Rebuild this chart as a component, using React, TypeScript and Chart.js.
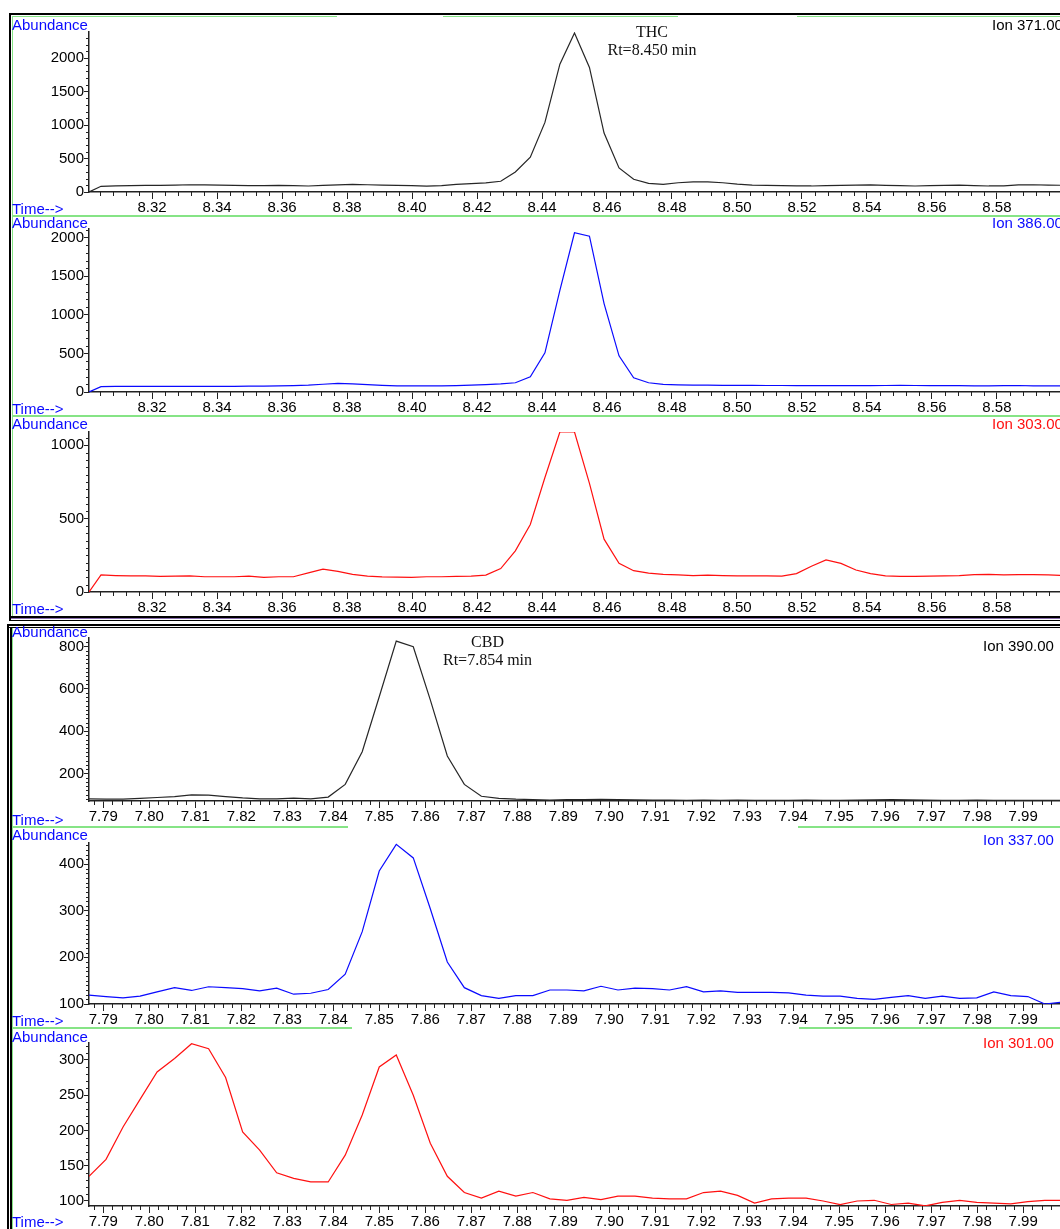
import React, { useEffect, useRef } from "react";
import { Chart, registerables } from "chart.js";

Chart.register(...registerables);

// ---------- THC group (retention time axis, minutes) ----------
const THC_TIME = [8.3006, 8.3043, 8.3088, 8.3134, 8.3180, 8.3225, 8.3271, 8.3316, 8.3362, 8.3407, 8.3453, 8.3498, 8.3544, 8.3590, 8.3635, 8.3681, 8.3726, 8.3772, 8.3817, 8.3863, 8.3908, 8.3954, 8.3999, 8.4045, 8.4091, 8.4136, 8.4182, 8.4227, 8.4273, 8.4318, 8.4364, 8.4409, 8.4455, 8.4500, 8.4546, 8.4591, 8.4637, 8.4682, 8.4728, 8.4773, 8.4819, 8.4865, 8.4910, 8.4956, 8.5001, 8.5047, 8.5092, 8.5138, 8.5183, 8.5229, 8.5274, 8.5320, 8.5366, 8.5411, 8.5457, 8.5502, 8.5548, 8.5593, 8.5639, 8.5684, 8.5730, 8.5775, 8.5821, 8.5866, 8.5912, 8.5958, 8.6003];

const ION_371 = [0, 85, 92, 95, 98, 100, 104, 108, 105, 103, 98, 96, 94, 100, 95, 90, 100, 106, 115, 108, 104, 100, 96, 88, 95, 115, 125, 135, 160, 300, 520, 1040, 1910, 2375, 1860, 880, 360, 190, 130, 115, 138, 152, 152, 138, 118, 104, 100, 95, 92, 90, 96, 100, 102, 106, 100, 95, 90, 94, 100, 104, 96, 90, 92, 105, 108, 104, 100];

const ION_386 = [0, 70, 72, 72, 72, 72, 72, 74, 74, 74, 74, 75, 76, 78, 82, 88, 100, 112, 105, 95, 86, 80, 78, 78, 80, 82, 88, 95, 105, 120, 197, 507, 1316, 2061, 2017, 1145, 468, 184, 120, 99, 93, 90, 88, 86, 86, 85, 84, 84, 83, 83, 82, 82, 82, 82, 84, 86, 84, 82, 82, 82, 80, 80, 82, 84, 80, 78, 78];

const ION_303 = [0, 116, 112, 110, 110, 106, 108, 110, 104, 104, 104, 108, 100, 104, 104, 130, 156, 140, 120, 108, 103, 102, 100, 104, 104, 106, 108, 115, 160, 280, 460, 780, 1090, 1090, 740, 360, 195, 145, 128, 120, 116, 112, 115, 112, 110, 110, 110, 108, 125, 175, 218, 195, 150, 125, 110, 106, 106, 108, 110, 112, 118, 120, 116, 118, 118, 116, 112];

const THC_X_TICKS = [8.32, 8.34, 8.36, 8.38, 8.40, 8.42, 8.44, 8.46, 8.48, 8.50, 8.52, 8.54, 8.56, 8.58];
const Y_TICKS_371 = [0, 500, 1000, 1500, 2000];
const Y_TICKS_386 = [0, 500, 1000, 1500, 2000];
const Y_TICKS_303 = [0, 500, 1000];

// ---------- CBD group ----------
const CBD_TIME = [7.7869, 7.7906, 7.7943, 7.7980, 7.8017, 7.8055, 7.8092, 7.8129, 7.8166, 7.8203, 7.8240, 7.8277, 7.8314, 7.8351, 7.8389, 7.8426, 7.8463, 7.8500, 7.8537, 7.8574, 7.8611, 7.8648, 7.8685, 7.8722, 7.8760, 7.8797, 7.8834, 7.8871, 7.8908, 7.8945, 7.8982, 7.9019, 7.9056, 7.9094, 7.9131, 7.9168, 7.9205, 7.9242, 7.9279, 7.9316, 7.9353, 7.9390, 7.9428, 7.9465, 7.9502, 7.9539, 7.9576, 7.9613, 7.9650, 7.9687, 7.9724, 7.9762, 7.9799, 7.9836, 7.9873, 7.9910, 7.9947, 7.9984];

const ION_390 = [80, 78, 78, 82, 86, 90, 98, 97, 90, 84, 80, 80, 83, 80, 88, 148, 302, 562, 825, 798, 547, 282, 148, 92, 82, 78, 76, 74, 76, 76, 77, 76, 75, 74, 74, 73, 74, 73, 74, 73, 72, 73, 74, 72, 73, 74, 75, 76, 75, 74, 72, 73, 74, 72, 73, 72, 73, 72];

const ION_337 = [119, 116, 113, 117, 126, 135, 129, 137, 135, 133, 128, 134, 121, 123, 131, 164, 255, 385, 442, 413, 304, 190, 135, 118, 112, 118, 118, 130, 130, 128, 138, 130, 134, 133, 130, 137, 126, 128, 125, 125, 125, 124, 119, 117, 117, 112, 110, 114, 118, 112, 117, 112, 113, 126, 118, 116, 100, 104];

const ION_301 = [135, 159, 205, 244, 283, 302, 323, 316, 275, 198, 172, 140, 132, 127, 127, 165, 222, 290, 307, 250, 182, 135, 112, 104, 114, 107, 112, 103, 101, 105, 102, 107, 107, 104, 103, 103, 112, 114, 108, 97, 103, 104, 104, 100, 95, 100, 101, 95, 97, 93, 98, 101, 98, 97, 96, 99, 101, 101];

const CBD_X_TICKS = [7.79, 7.80, 7.81, 7.82, 7.83, 7.84, 7.85, 7.86, 7.87, 7.88, 7.89, 7.90, 7.91, 7.92, 7.93, 7.94, 7.95, 7.96, 7.97, 7.98, 7.99];
const Y_TICKS_390 = [200, 400, 600, 800];
const Y_TICKS_337 = [100, 200, 300, 400];
const Y_TICKS_301 = [100, 150, 200, 250, 300];

// ---------- styling / layout ----------
const SANS = '"Liberation Sans", Arial, Helvetica, sans-serif';
const SERIF = '"Liberation Serif", "Times New Roman", Times, serif';
const BLUE = "#0a0aff";
const RED = "#ff1010";
const DARK = "#262626";
const GREEN = "#86e486";
const AXIS = "#222222";
const W = 1060;
const PAD_TOP = 12;
const X_H = 30;
const Y_W = 89;

type PanelCfg = {
  time: number[];
  values: number[];
  color: string;
  plotTop: number;
  plotBottom: number;
  xMin: number;
  xMax: number;
  xTicks: number[];
  xMinor: number;
  xRatio: number;
  yMin: number;
  yMax: number;
  yTicks: number[];
  yMinor: number;
  yRatio: number;
};

const PANELS: PanelCfg[] = [
  { time: THC_TIME, values: ION_371, color: DARK, plotTop: 32, plotBottom: 192, xMin: 8.3006, xMax: 8.5994, xTicks: THC_X_TICKS, xMinor: 0.004, xRatio: 5, yMin: 0, yMax: 2390, yTicks: Y_TICKS_371, yMinor: 100, yRatio: 5 },
  { time: THC_TIME, values: ION_386, color: BLUE, plotTop: 229, plotBottom: 392, xMin: 8.3006, xMax: 8.5994, xTicks: THC_X_TICKS, xMinor: 0.004, xRatio: 5, yMin: 0, yMax: 2110, yTicks: Y_TICKS_386, yMinor: 100, yRatio: 5 },
  { time: THC_TIME, values: ION_303, color: RED, plotTop: 432, plotBottom: 592, xMin: 8.3006, xMax: 8.5994, xTicks: THC_X_TICKS, xMinor: 0.004, xRatio: 5, yMin: 0, yMax: 1090, yTicks: Y_TICKS_303, yMinor: 50, yRatio: 10 },
  { time: CBD_TIME, values: ION_390, color: DARK, plotTop: 638, plotBottom: 801, xMin: 7.7869, xMax: 7.998, xTicks: CBD_X_TICKS, xMinor: 0.002, xRatio: 5, yMin: 69.5, yMax: 839.5, yTicks: Y_TICKS_390, yMinor: 20, yRatio: 10 },
  { time: CBD_TIME, values: ION_337, color: BLUE, plotTop: 843, plotBottom: 1004, xMin: 7.7869, xMax: 7.998, xTicks: CBD_X_TICKS, xMinor: 0.002, xRatio: 5, yMin: 100, yMax: 445, yTicks: Y_TICKS_337, yMinor: 10, yRatio: 10 },
  { time: CBD_TIME, values: ION_301, color: RED, plotTop: 1043, plotBottom: 1206, xMin: 7.7869, xMax: 7.998, xTicks: CBD_X_TICKS, xMinor: 0.002, xRatio: 5, yMin: 92.9, yMax: 324, yTicks: Y_TICKS_301, yMinor: 10, yRatio: 5 },
];

function Panel({ cfg }: { cfg: PanelCfg }) {
  const ref = useRef<HTMLCanvasElement | null>(null);
  const height = PAD_TOP + (cfg.plotBottom - cfg.plotTop) + X_H;

  useEffect(() => {
    if (!ref.current) return;
    const minorTicks = {
      id: "minorTicks",
      afterDraw(chart: any) {
        const { ctx, chartArea, scales } = chart;
        const xs = scales.x;
        const ys = scales.y;
        ctx.save();
        ctx.strokeStyle = AXIS;
        ctx.lineWidth = 1;
        ctx.beginPath();
        const i0 = Math.ceil(cfg.xMin / cfg.xMinor - 1e-6);
        const i1 = Math.floor(cfg.xMax / cfg.xMinor + 1e-6);
        for (let i = i0; i <= i1; i++) {
          if (i % cfg.xRatio === 0) continue;
          const px = Math.round(xs.getPixelForValue(i * cfg.xMinor)) + 0.5;
          ctx.moveTo(px, chartArea.bottom);
          ctx.lineTo(px, chartArea.bottom + 4);
        }
        const j0 = Math.ceil(cfg.yMin / cfg.yMinor - 1e-6);
        const j1 = Math.floor(cfg.yMax / cfg.yMinor + 1e-6);
        for (let j = j0; j <= j1; j++) {
          if (j % cfg.yRatio === 0) continue;
          const py = Math.round(ys.getPixelForValue(j * cfg.yMinor)) + 0.5;
          ctx.moveTo(chartArea.left - 3, py);
          ctx.lineTo(chartArea.left, py);
        }
        ctx.stroke();
        ctx.restore();
      },
    };

    const chart = new Chart(ref.current, {
      type: "line",
      data: {
        datasets: [
          {
            data: cfg.time.map((t, i) => ({ x: t, y: cfg.values[i] })),
            borderColor: cfg.color,
            borderWidth: 1.2,
            pointRadius: 0,
            tension: 0,
            fill: false,
          },
        ],
      },
      options: {
        animation: false,
        responsive: false,
        maintainAspectRatio: false,
        layout: { padding: { top: PAD_TOP, left: 0, right: 0, bottom: 0 } },
        plugins: { legend: { display: false }, tooltip: { enabled: false } },
        scales: {
          x: {
            type: "linear",
            min: cfg.xMin,
            max: cfg.xMax,
            afterBuildTicks: (s: any) => {
              s.ticks = cfg.xTicks.map((v) => ({ value: v }));
            },
            afterFit: (s: any) => {
              s.height = X_H;
            },
            grid: { display: true, drawOnChartArea: false, drawTicks: true, tickLength: 7, color: AXIS, lineWidth: 1 },
            border: { display: true, color: AXIS, width: 1.5 },
            ticks: {
              autoSkip: false,
              maxRotation: 0,
              padding: 0,
              color: "#000",
              font: { family: SANS, size: 15 },
              callback: (v: any) => Number(v).toFixed(2),
            },
          },
          y: {
            type: "linear",
            min: cfg.yMin,
            max: cfg.yMax,
            afterBuildTicks: (s: any) => {
              s.ticks = cfg.yTicks.map((v) => ({ value: v }));
            },
            afterFit: (s: any) => {
              s.width = Y_W;
            },
            grid: { display: true, drawOnChartArea: false, drawTicks: true, tickLength: 5, color: AXIS, lineWidth: 1 },
            border: { display: true, color: AXIS, width: 1.5 },
            ticks: {
              autoSkip: false,
              padding: 0,
              color: "#000",
              font: { family: SANS, size: 15 },
              callback: (v: any) => String(v),
            },
          },
        },
      },
      plugins: [minorTicks as any],
    });
    return () => chart.destroy();
  }, []);

  return (
    <canvas
      ref={ref}
      width={W}
      height={height}
      style={{ position: "absolute", left: 0, top: cfg.plotTop - PAD_TOP, width: W, height }}
    />
  );
}

type Txt = { text: string; x: number; cy: number; color: string; serif?: boolean; center?: boolean };

const TEXTS: Txt[] = [
  { text: "Abundance", x: 12, cy: 24.5, color: BLUE },
  { text: "Abundance", x: 12, cy: 223, color: BLUE },
  { text: "Abundance", x: 12, cy: 423.5, color: BLUE },
  { text: "Abundance", x: 12, cy: 632, color: BLUE },
  { text: "Abundance", x: 12, cy: 835, color: BLUE },
  { text: "Abundance", x: 12, cy: 1036.5, color: BLUE },
  { text: "Time-->", x: 12, cy: 209, color: BLUE },
  { text: "Time-->", x: 12, cy: 408.5, color: BLUE },
  { text: "Time-->", x: 12, cy: 608.5, color: BLUE },
  { text: "Time-->", x: 12, cy: 819.5, color: BLUE },
  { text: "Time-->", x: 12, cy: 1021, color: BLUE },
  { text: "Time-->", x: 12, cy: 1222, color: BLUE },
  { text: "Ion 371.00", x: 992, cy: 24.5, color: "#000" },
  { text: "Ion 386.00", x: 992, cy: 223, color: BLUE },
  { text: "Ion 303.00", x: 992, cy: 423.5, color: RED },
  { text: "Ion 390.00", x: 983, cy: 646, color: "#000" },
  { text: "Ion 337.00", x: 983, cy: 840, color: BLUE },
  { text: "Ion 301.00", x: 983, cy: 1043, color: RED },
  { text: "THC", x: 652, cy: 31.5, color: "#111", serif: true, center: true },
  { text: "Rt=8.450 min", x: 652, cy: 49.5, color: "#111", serif: true, center: true },
  { text: "CBD", x: 487.5, cy: 641.5, color: "#111", serif: true, center: true },
  { text: "Rt=7.854 min", x: 487.5, cy: 660, color: "#111", serif: true, center: true },
];

type Rect = { l: number; t: number; w: number; h: number; c: string };

const RECTS: Rect[] = [
  // THC box
  { l: 9, t: 13, w: 1051, h: 2, c: "#000" },
  { l: 12, t: 16, w: 325, h: 1, c: GREEN },
  { l: 443, t: 16, w: 235, h: 1, c: GREEN },
  { l: 797, t: 16, w: 263, h: 1, c: GREEN },
  { l: 9, t: 13, w: 2, h: 608, c: "#000" },
  { l: 12, t: 16, w: 1, h: 600, c: GREEN },
  { l: 12, t: 215, w: 1048, h: 1.5, c: GREEN },
  { l: 12, t: 415, w: 1048, h: 1.5, c: GREEN },
  { l: 9, t: 616, w: 1051, h: 1.5, c: "#000" },
  { l: 11, t: 618, w: 1049, h: 1, c: "#8a6fb0" },
  { l: 9, t: 619.5, w: 1051, h: 1.5, c: "#000" },
  // CBD box
  { l: 7, t: 624, w: 1053, h: 1.5, c: "#000" },
  { l: 9, t: 626.5, w: 1051, h: 1.5, c: "#000" },
  { l: 7, t: 624, w: 1.5, h: 605, c: "#000" },
  { l: 10, t: 626.5, w: 1.5, h: 603, c: "#000" },
  { l: 12, t: 628, w: 1, h: 601, c: GREEN },
  { l: 12, t: 826, w: 336, h: 1.5, c: GREEN },
  { l: 798, t: 826, w: 262, h: 1.5, c: GREEN },
  { l: 12, t: 1027, w: 340, h: 1.5, c: GREEN },
  { l: 799, t: 1027, w: 261, h: 1.5, c: GREEN },
];

export default function App() {
  return (
    <div
      style={{
        position: "absolute",
        left: 0,
        top: 0,
        width: W,
        height: 1229,
        overflow: "hidden",
        background: "#fff",
      }}
    >
      {PANELS.map((p, i) => (
        <Panel key={i} cfg={p} />
      ))}
      {RECTS.map((r, i) => (
        <div
          key={"r" + i}
          style={{ position: "absolute", left: r.l, top: r.t, width: r.w, height: r.h, background: r.c }}
        />
      ))}
      {TEXTS.map((t, i) => (
        <div
          key={"t" + i}
          style={{
            position: "absolute",
            left: t.center ? t.x - 100 : t.x,
            width: t.center ? 200 : undefined,
            textAlign: t.center ? "center" : "left",
            top: t.serif ? t.cy - 10 : t.cy - 9,
            height: t.serif ? 20 : 18,
            lineHeight: t.serif ? "20px" : "18px",
            fontFamily: t.serif ? SERIF : SANS,
            fontSize: t.serif ? 16 : 15,
            color: t.color,
            whiteSpace: "nowrap",
          }}
        >
          {t.text}
        </div>
      ))}
    </div>
  );
}
